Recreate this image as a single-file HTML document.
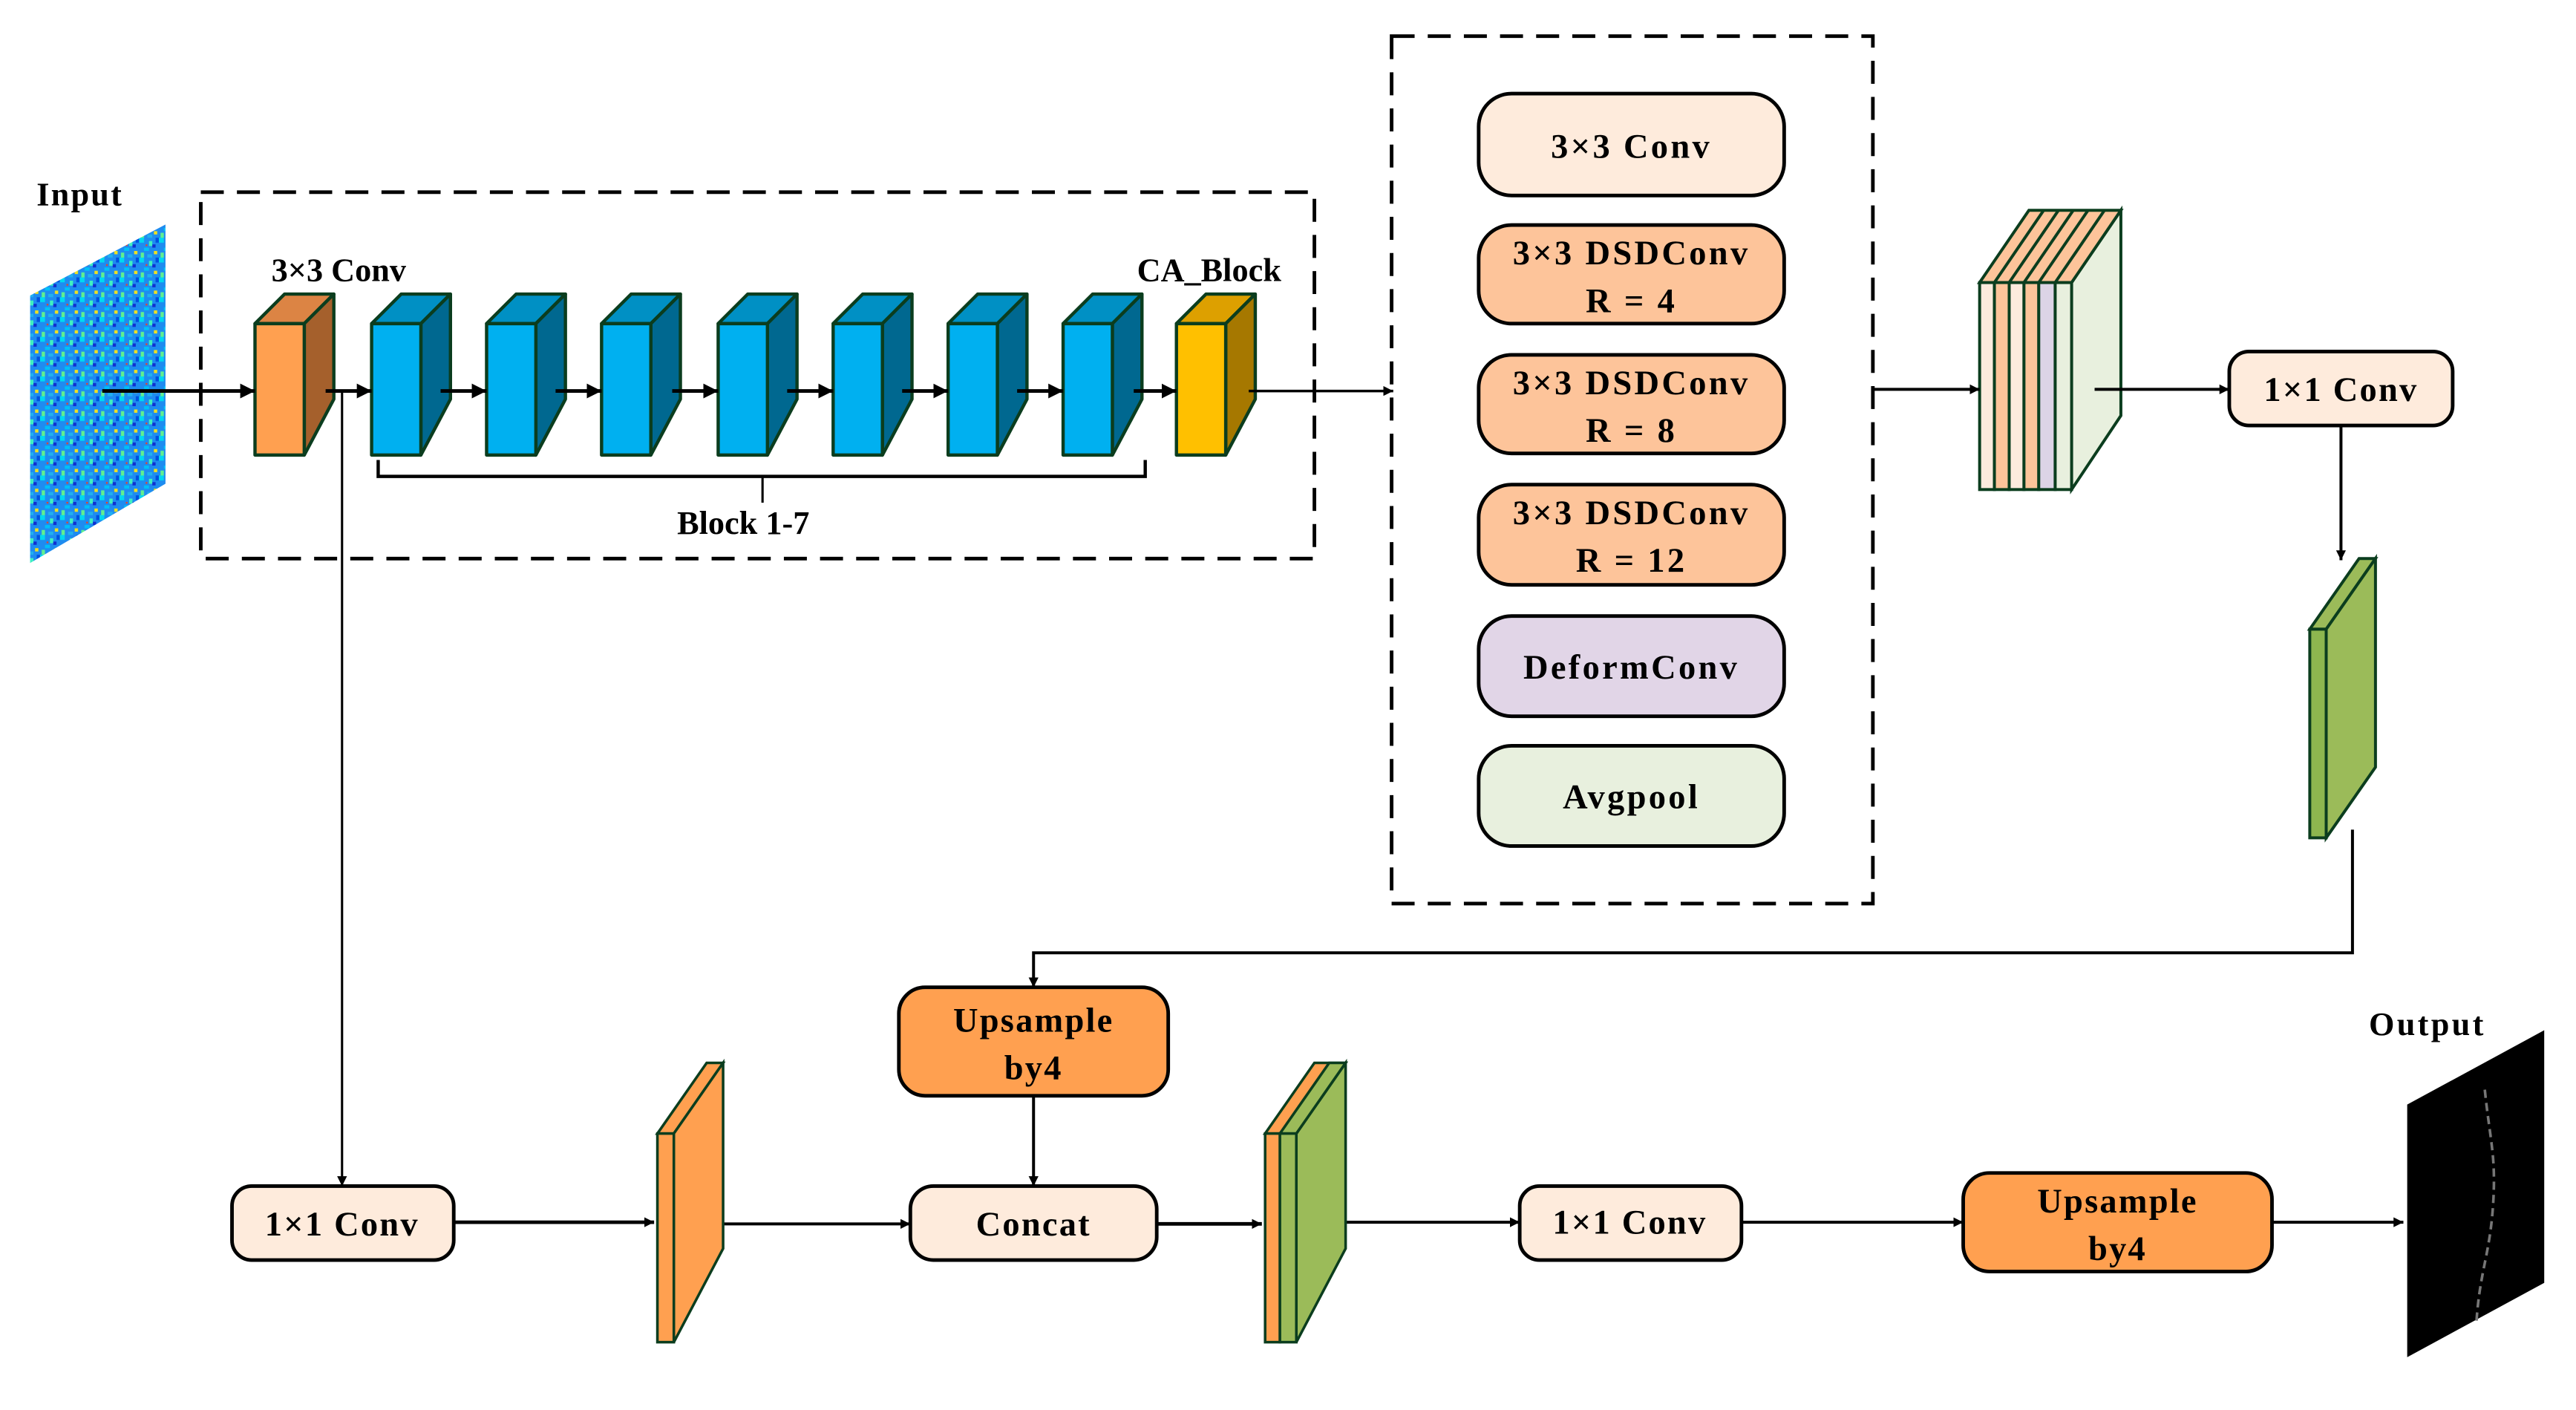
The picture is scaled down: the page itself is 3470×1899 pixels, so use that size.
<!DOCTYPE html>
<html><head><meta charset="utf-8"><style>
html,body{margin:0;padding:0;background:#fff;width:3470px;height:1899px;overflow:hidden}
svg{display:block}
text{font-family:"Liberation Serif",serif;font-weight:bold;fill:#000}
</style></head><body>
<svg width="3470" height="1899" viewBox="0 0 1560 854" xmlns="http://www.w3.org/2000/svg">
<defs>
<marker id="ah" viewBox="0 0 10 10" refX="10" refY="5" markerWidth="6" markerHeight="6" markerUnits="userSpaceOnUse" orient="auto"><path d="M0,0L10,5L0,10z" fill="#000"/></marker>
<marker id="ahb" viewBox="0 0 10 10" refX="10" refY="5" markerWidth="9" markerHeight="9" markerUnits="userSpaceOnUse" orient="auto"><path d="M0,0L10,5L0,10z" fill="#000"/></marker>
<pattern id="noise" width="12" height="12" patternUnits="userSpaceOnUse">
<rect width="12" height="12" fill="#1E8CF0"/>
<rect x="0" y="0" width="3" height="3" fill="#00D8F0"/><rect x="6" y="2" width="2" height="3" fill="#40F0C0"/>
<rect x="3" y="6" width="3" height="2" fill="#00C0F8"/><rect x="9" y="8" width="2" height="2" fill="#F0E020"/>
<rect x="8" y="4" width="2" height="2" fill="#1030D0"/><rect x="1" y="9" width="2" height="3" fill="#60F090"/>
<rect x="5" y="10" width="3" height="2" fill="#20B0F0"/><rect x="10" y="0" width="2" height="3" fill="#0050E0"/>
<rect x="4" y="4" width="1" height="1" fill="#F04020"/>
</pattern>
</defs>

<!-- Input -->
<polygon points="18,179 100,136 100,293 18,341" fill="url(#noise)"/>

<g transform="scale(0.995)">
<text x="22" y="125" font-size="20" letter-spacing="1">Input</text>
<!-- dashed box 1 -->
<rect x="122" y="117" width="678" height="223" fill="none" stroke="#000" stroke-width="2.2" stroke-dasharray="14,8"/>
<text x="165" y="171" font-size="20">3×3 Conv</text>
<text x="692" y="171" font-size="20">CA_Block</text>

<!-- blocks -->
<g stroke="#0B3D1E" stroke-width="2" stroke-linejoin="round">
<polygon points="155,197 173,179 203,179 185,197" fill="#DC8444"/><polygon points="185,197 203,179 203,243 185,277" fill="#A5602C"/><rect x="155" y="197" width="30" height="80" fill="#FFA050"/>
<polygon points="226,197 244,179 274,179 256,197" fill="#0090C4"/><polygon points="256,197 274,179 274,243 256,277" fill="#006890"/><rect x="226" y="197" width="30" height="80" fill="#00B0F0"/>
<polygon points="296,197 314,179 344,179 326,197" fill="#0090C4"/><polygon points="326,197 344,179 344,243 326,277" fill="#006890"/><rect x="296" y="197" width="30" height="80" fill="#00B0F0"/>
<polygon points="366,197 384,179 414,179 396,197" fill="#0090C4"/><polygon points="396,197 414,179 414,243 396,277" fill="#006890"/><rect x="366" y="197" width="30" height="80" fill="#00B0F0"/>
<polygon points="437,197 455,179 485,179 467,197" fill="#0090C4"/><polygon points="467,197 485,179 485,243 467,277" fill="#006890"/><rect x="437" y="197" width="30" height="80" fill="#00B0F0"/>
<polygon points="507,197 525,179 555,179 537,197" fill="#0090C4"/><polygon points="537,197 555,179 555,243 537,277" fill="#006890"/><rect x="507" y="197" width="30" height="80" fill="#00B0F0"/>
<polygon points="577,197 595,179 625,179 607,197" fill="#0090C4"/><polygon points="607,197 625,179 625,243 607,277" fill="#006890"/><rect x="577" y="197" width="30" height="80" fill="#00B0F0"/>
<polygon points="647,197 665,179 695,179 677,197" fill="#0090C4"/><polygon points="677,197 695,179 695,243 677,277" fill="#006890"/><rect x="647" y="197" width="30" height="80" fill="#00B0F0"/>
<polygon points="716,197 734,179 764,179 746,197" fill="#DDA000"/><polygon points="746,197 764,179 764,243 746,277" fill="#A67800"/><rect x="716" y="197" width="30" height="80" fill="#FFC000"/>
</g>

<!-- arrows top row -->
<g stroke="#000" stroke-width="2.2" fill="none">
<line x1="62" y1="238" x2="155" y2="238" marker-end="url(#ahb)"/>
<line x1="198" y1="238" x2="226" y2="238" marker-end="url(#ahb)"/>
<line x1="268" y1="238" x2="296" y2="238" marker-end="url(#ahb)"/>
<line x1="338" y1="238" x2="366" y2="238" marker-end="url(#ahb)"/>
<line x1="409" y1="238" x2="437" y2="238" marker-end="url(#ahb)"/>
<line x1="479" y1="238" x2="507" y2="238" marker-end="url(#ahb)"/>
<line x1="549" y1="238" x2="577" y2="238" marker-end="url(#ahb)"/>
<line x1="619" y1="238" x2="647" y2="238" marker-end="url(#ahb)"/>
<line x1="690" y1="238" x2="716" y2="238" marker-end="url(#ahb)"/>
<line x1="760" y1="238" x2="848" y2="238" marker-end="url(#ah)" stroke-width="1.6"/>
<polyline points="230,280 230,290 697,290 697,280" stroke-width="2"/>
<line x1="464" y1="290" x2="464" y2="306" stroke-width="1.4"/>
<line x1="208" y1="238" x2="208" y2="722" stroke-width="1.4" marker-end="url(#ah)"/>
</g>
<text x="412" y="325" font-size="20">Block 1-7</text>

<!-- dashed box 2 -->
<rect x="847" y="22" width="293" height="528" fill="none" stroke="#000" stroke-width="2.2" stroke-dasharray="14,8"/>
<g stroke="#000" stroke-width="2.2">
<rect x="900" y="57" width="186" height="62" rx="20" fill="#FEEBDC"/>
<rect x="900" y="137" width="186" height="60" rx="20" fill="#FDC49A"/>
<rect x="900" y="216" width="186" height="60" rx="20" fill="#FDC49A"/>
<rect x="900" y="295" width="186" height="61" rx="20" fill="#FDC49A"/>
<rect x="900" y="375" width="186" height="61" rx="20" fill="#E1D5E7"/>
<rect x="900" y="454" width="186" height="61" rx="20" fill="#E8F0DE"/>
</g>
<g font-size="21" text-anchor="middle" letter-spacing="1.5">
<text x="993" y="96">3×3 Conv</text>
<text x="993" y="161">3×3 DSDConv</text><text x="993" y="190">R = 4</text>
<text x="993" y="240">3×3 DSDConv</text><text x="993" y="269">R = 8</text>
<text x="993" y="319">3×3 DSDConv</text><text x="993" y="348">R = 12</text>
<text x="993" y="413">DeformConv</text>
<text x="993" y="492">Avgpool</text>
</g>

<!-- stack -->
<g stroke="#0B3D1E" stroke-width="1.8">
<polygon points="1261,172 1291,128 1291,253 1261,298" fill="#E8F0DE"/>
<polygon points="1205,172 1235,128 1291,128 1261,172" fill="#FDC49A"/>
<line x1="1214" y1="172" x2="1244" y2="128"/><line x1="1223" y1="172" x2="1253" y2="128"/><line x1="1232" y1="172" x2="1262" y2="128"/><line x1="1241" y1="172" x2="1271" y2="128"/><line x1="1251" y1="172" x2="1281" y2="128"/>
<rect x="1205" y="172" width="9" height="126" fill="#FDEBDD"/>
<rect x="1214" y="172" width="9" height="126" fill="#FDC49A"/>
<rect x="1223" y="172" width="9" height="126" fill="#FDEBDD"/>
<rect x="1232" y="172" width="9" height="126" fill="#FDC49A"/>
<rect x="1241" y="172" width="10" height="126" fill="#DCD4E6"/>
<rect x="1251" y="172" width="10" height="126" fill="#E8F0DE"/>
</g>
<g stroke="#000" stroke-width="1.8" fill="none">
<line x1="1140" y1="237" x2="1205" y2="237" marker-end="url(#ah)"/>
<line x1="1275" y1="237" x2="1357" y2="237" marker-end="url(#ah)"/>
<line x1="1425" y1="259" x2="1425" y2="341" marker-end="url(#ah)"/>
<polyline points="1432,505 1432,580 629,580 629,601" marker-end="url(#ah)"/>
<line x1="629" y1="667" x2="629" y2="722" marker-end="url(#ah)"/>
<line x1="276" y1="744" x2="398" y2="744" marker-end="url(#ah)" stroke-width="2.2"/>
<line x1="418" y1="745" x2="554" y2="745" marker-end="url(#ah)"/>
<line x1="704" y1="745" x2="768" y2="745" marker-end="url(#ah)" stroke-width="2.2"/>
<line x1="805" y1="744" x2="925" y2="744" marker-end="url(#ah)"/>
<line x1="1060" y1="744" x2="1195" y2="744" marker-end="url(#ah)"/>
<line x1="1383" y1="744" x2="1463" y2="744" marker-end="url(#ah)"/>
</g>
<rect x="1357" y="214" width="136" height="45" rx="12" fill="#FEEBDC" stroke="#000" stroke-width="2.2"/>
<text x="1425" y="244" font-size="21" text-anchor="middle" letter-spacing="1">1×1 Conv</text>

<!-- green block -->
<g stroke="#0B3D1E" stroke-width="1.8">
<polygon points="1406,383 1436,340 1446,340 1416,383" fill="#9BBB59"/>
<polygon points="1416,383 1446,340 1446,467 1416,510" fill="#9BBB59"/>
<rect x="1406" y="383" width="10" height="127" fill="#8DB64F"/>
</g>

<!-- bottom boxes -->
<g stroke="#000" stroke-width="2.2">
<rect x="547" y="601" width="164" height="66" rx="16" fill="#FFA050"/>
<rect x="554" y="722" width="150" height="45" rx="14" fill="#FEEBDC"/>
<rect x="141" y="722" width="135" height="45" rx="12" fill="#FEEBDC"/>
<rect x="925" y="722" width="135" height="45" rx="12" fill="#FEEBDC"/>
<rect x="1195" y="714" width="188" height="60" rx="16" fill="#FFA050"/>
</g>
<g font-size="21" text-anchor="middle" letter-spacing="1">
<text x="629" y="628">Upsample</text><text x="629" y="657">by4</text>
<text x="629" y="752">Concat</text>
<text x="208" y="752">1×1 Conv</text>
<text x="992" y="751">1×1 Conv</text>
<text x="1289" y="738">Upsample</text><text x="1289" y="767">by4</text>
</g>

<!-- thin orange -->
<g stroke="#0B3D1E" stroke-width="1.6">
<polygon points="400,690 430,647 440,647 410,690" fill="#FFA050"/>
<polygon points="410,690 440,647 440,760 410,817" fill="#FFA050"/>
<rect x="400" y="690" width="10" height="127" fill="#FFA050"/>
</g>
<!-- double thin -->
<g stroke="#0B3D1E" stroke-width="1.6">
<polygon points="789,690 819,647 819,760 789,817" fill="#9BBB59"/>
<polygon points="770,690 800,647 819,647 789,690" fill="#FFA050"/>
<polygon points="779,690 809,647 819,647 789,690" fill="#9BBB59"/>
<rect x="770" y="690" width="9" height="127" fill="#FFA050"/>
<rect x="779" y="690" width="10" height="127" fill="#9BBB59"/>
</g>
<text x="1442" y="630" font-size="20" letter-spacing="1.5">Output</text>
</g>

<!-- output -->
<polygon points="1458,669 1541,624 1541,777 1458,822" fill="#000"/>
<path d="M1505,660 C1508,690 1512,700 1510,730 C1508,760 1502,770 1500,800" stroke="#777" stroke-width="1.6" fill="none" stroke-dasharray="5,3"/>
</svg>
</body></html>
